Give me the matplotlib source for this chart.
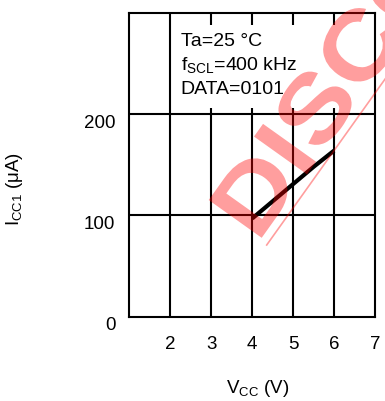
import matplotlib
matplotlib.use("Agg")
import numpy as np
import matplotlib.pyplot as plt
import matplotlib.transforms as mtransforms
from matplotlib.patches import Rectangle, PathPatch
from matplotlib.lines import Line2D
from matplotlib.textpath import TextPath
from matplotlib.font_manager import FontProperties

plt.rcParams["font.family"] = ["Liberation Sans", "DejaVu Sans"]
plt.rcParams["mathtext.fontset"] = "custom"
plt.rcParams["mathtext.rm"] = "Liberation Sans"
plt.rcParams["mathtext.default"] = "regular"

# data
vcc = [4.0, 4.5, 5.0, 5.5, 6.0]
icc1 = [97, 114, 131, 148, 164]
x_ticks = [2, 3, 4, 5, 6, 7]
y_ticks = [0, 100, 200]
conditions = ["Ta=25 °C", "f$_{SCL}$=400 kHz", "DATA=0101"]

W, H = 385, 401
fig = plt.figure(figsize=(W / 100, H / 100), dpi=100)
ax = fig.add_axes([0.336, 0.210, 0.638, 0.758])

ax.set_xlim(1, 7)
ax.set_ylim(0, 300)
ax.set_xticks(x_ticks)
ax.set_yticks(y_ticks)
ax.tick_params(length=0, labelsize=13.5, colors="black")
ax.tick_params(axis="x", pad=14)
ax.tick_params(axis="y", pad=10)
# y labels sit a little below their gridlines in the reference
off = mtransforms.ScaledTranslation(0, -5 / 72, fig.dpi_scale_trans)
for lab in ax.get_yticklabels():
    lab.set_transform(lab.get_transform() + off)

for v in range(2, 7):
    ax.axvline(v, color="black", lw=1.5, zorder=1)
for v in [100, 200]:
    ax.axhline(v, color="black", lw=1.5, zorder=1)
for s in ax.spines.values():
    s.set_linewidth(1.5)

# white box behind the test conditions
ax.add_patch(Rectangle((2.05, 206), 4.9, 82, facecolor="white", edgecolor="none", zorder=2))
for i, t in enumerate(conditions):
    ax.text(2.25, 267.5 - i * 24, t, fontsize=14, ha="left", va="baseline", zorder=3)

ax.plot(vcc, icc1, color="black", lw=3, solid_capstyle="butt", zorder=4)

fig.text(0.037, 0.529, "I$_{CC1}$ (μA)", rotation=90, fontsize=13.5, ha="center", va="center")
fig.text(0.668, 0.031, "V$_{CC}$ (V)", fontsize=13.5, ha="center", va="center")

# watermark, built in pixels (origin bottom-left) then mapped to the figure
ang = 54.5
ux, uy = np.cos(np.radians(ang)), np.sin(np.radians(ang))
x0, y0 = 257.5, H - 243.7
tp = TextPath((0, 0), "DISCONTINUED", size=1, prop=FontProperties(family="Liberation Sans", weight="bold"))
to_fig = mtransforms.Affine2D().scale(108, 94.6).rotate_deg(ang).translate(x0, y0).scale(1 / W, 1 / H)
fig.patches.append(PathPatch(tp, transform=to_fig + fig.transFigure, facecolor="red",
                             edgecolor="none", alpha=0.38, zorder=10))
lx, ly = 266.7, H - 245
fig.add_artist(Line2D([lx / W, (lx + 300 * ux) / W], [ly / H, (ly + 300 * uy) / H],
                      color="red", alpha=0.38, lw=1.2, zorder=10))

fig.savefig("out.png", dpi=100)
